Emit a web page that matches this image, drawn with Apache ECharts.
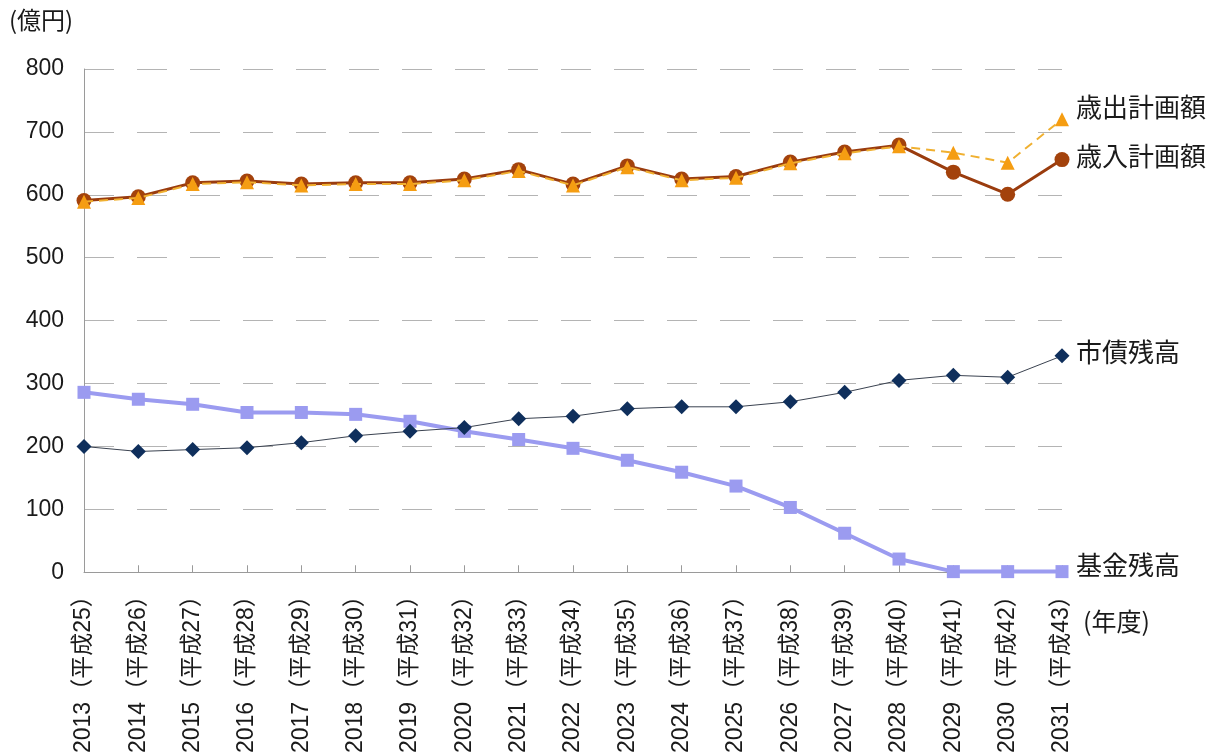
<!DOCTYPE html>
<html lang="ja">
<head>
<meta charset="utf-8">
<title>歳入・歳出計画額と市債・基金残高の推移</title>
<script src="https://cdn.jsdelivr.net/npm/echarts@6/dist/echarts.min.js"></script>
<style>
  html, body { margin: 0; padding: 0; background: #fff; }
  #chart { width: 1215px; height: 756px; }
</style>
</head>
<body>
<div id="chart"></div>
<script>
// 年度（西暦・和暦）
const years = [
  '2013（平成25）', '2014（平成26）', '2015（平成27）', '2016（平成28）', '2017（平成29）',
  '2018（平成30）', '2019（平成31）', '2020（平成32）', '2021（平成33）', '2022（平成34）',
  '2023（平成35）', '2024（平成36）', '2025（平成37）', '2026（平成38）', '2027（平成39）',
  '2028（平成40）', '2029（平成41）', '2030（平成42）', '2031（平成43）'
];

// 単位：億円
const revenuePlan = [591, 597, 619, 622, 617, 619, 619, 625, 640, 617, 646, 625, 629, 652, 668, 679, 636, 601, 656];
const expenditurePlan = [589, 595, 617, 620, 615, 617, 617, 623, 638, 615, 644, 623, 627, 650, 666, 677, 667, 651, 720];
const bondBalance = [200, 192, 195, 198, 206, 217, 224, 230, 244, 248, 260, 263, 263, 271, 286, 305, 313, 310, 344];
const fundBalance = [286, 275, 267, 254, 254, 251, 240, 224, 211, 197, 178, 159, 137, 103, 62, 21, 1, 1, 1];

const yTicks = { min: 0, max: 800, step: 100 };

const FONT = '"Liberation Sans", "Noto Sans CJK JP", sans-serif';
const JP_FONT = '"Noto Sans CJK JP", "Liberation Sans", sans-serif';

const chart = echarts.init(document.getElementById('chart'), null, { renderer: 'canvas' });

function endLabel(offsetY) {
  return {
    show: true,
    formatter: '{a}',
    fontFamily: JP_FONT,
    fontSize: 26,
    color: '#1a1a1a',
    distance: 14,
    offset: [0, offsetY]
  };
}

chart.setOption({
  animation: false,
  backgroundColor: '#ffffff',
  grid: { left: 84, right: 153, top: 69, bottom: 183, containLabel: false },
  graphic: [
    {
      type: 'text', left: 9, top: 8,
      style: { text: '(億円)', font: '24px ' + JP_FONT, fill: '#1a1a1a' }
    },
    {
      type: 'text', left: 1083, top: 609,
      style: { text: '(年度)', font: '25px ' + JP_FONT, fill: '#1a1a1a' }
    }
  ],
  xAxis: {
    type: 'category',
    data: years,
    boundaryGap: false,
    axisLine: { lineStyle: { color: '#9a9a9a', width: 1 } },
    axisTick: { show: true, inside: true, length: 7, lineStyle: { color: '#9a9a9a' } },
    axisLabel: {
      rotate: 90, margin: 12, interval: 0,
      fontFamily: FONT, fontSize: 23, color: '#1a1a1a'
    },
    splitLine: { show: false }
  },
  yAxis: {
    type: 'value',
    min: yTicks.min, max: yTicks.max, interval: yTicks.step,
    axisLine: { show: true, lineStyle: { color: '#9a9a9a', width: 1 } },
    axisTick: { show: false },
    axisLabel: { margin: 20, fontFamily: FONT, fontSize: 23, color: '#1a1a1a' },
    splitLine: { show: true, lineStyle: { color: '#b4b4b4', width: 1, type: [30, 23] } }
  },
  series: [
    {
      name: '歳入計画額', type: 'line', data: revenuePlan,
      symbol: 'circle', symbolSize: 15,
      itemStyle: { color: '#a3420c' },
      lineStyle: { color: '#9a3c0e', width: 3 },
      endLabel: endLabel(-3), z: 3
    },
    {
      name: '歳出計画額', type: 'line', data: expenditurePlan,
      symbol: 'triangle', symbolSize: 14,
      itemStyle: { color: '#f59d12' },
      lineStyle: { color: '#f0b030', width: 2, type: [9, 6] },
      endLabel: endLabel(-12), z: 4
    },
    {
      name: '基金残高', type: 'line', data: fundBalance,
      symbol: 'rect', symbolSize: 13,
      itemStyle: { color: '#9b9bf0' },
      lineStyle: { color: '#9b9bf0', width: 4 },
      endLabel: endLabel(-6), z: 2
    },
    {
      name: '市債残高', type: 'line', data: bondBalance,
      symbol: 'diamond', symbolSize: 15,
      itemStyle: { color: '#0f2f5c' },
      lineStyle: { color: '#3a4250', width: 1 },
      endLabel: endLabel(-4), z: 3
    }
  ]
});
</script>
</body>
</html>
